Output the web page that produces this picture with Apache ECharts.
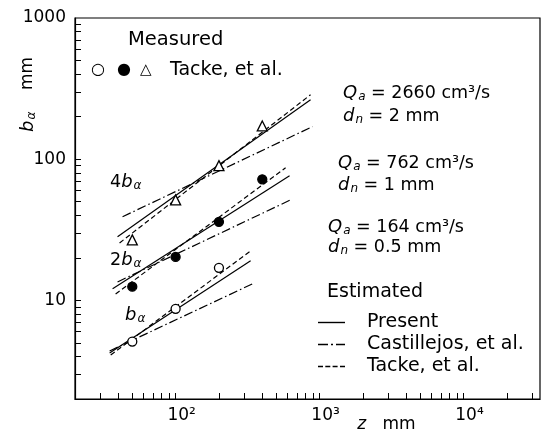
<!DOCTYPE html>
<html><head><meta charset="utf-8">
<script src="https://cdn.jsdelivr.net/npm/echarts@6/dist/echarts.min.js"></script>
<style>html,body{margin:0;padding:0;background:#fff}#c{width:543px;height:434px}</style>
</head><body><div id="c"></div>
<script>
// Axis ticks and labels
const xTickValues = [30,40,50,60,70,80,90,100,200,300,400,500,600,700,800,900,1000,2000,3000,4000,5000,6000,7000,8000,9000,10000,20000,30000];
const xLabelValues = [100,1000,10000];
const yTickValues = [3,4,5,6,7,8,9,10,20,30,40,50,60,70,80,90,100,200,300,400,500,600,700,800,900];
const yLabelValues = [10,100,1000];

// Measured (Tacke, et al.)
const zOpen = [50,100,200];
const bOpen = [5.1,8.7,17];          // b_alpha
const zFilled = [50,100,200,400];
const bFilled = [12.5,20.3,36,72];   // 2 b_alpha
const zTri = [50,100,200,400];
const bTri = [26.8,51.5,90,172];     // 4 b_alpha

// Estimated lines (start, end) for each group
// 4 b_alpha, Qa=2660
const z4Present = [39.5,866],  b4Present = [28.2,264];
const z4Cast    = [42.8,893],  b4Cast    = [39.1,170];
const z4Tacke   = [40.8,866],  b4Tacke   = [25.5,286];
// 2 b_alpha, Qa=762
const z2Present = [36.5,619],  b2Present = [12.1,76.4];
const z2Cast    = [39.5,630],  b2Cast    = [13.5,51.5];
const z2Tacke   = [38.3,581],  b2Tacke   = [11.1,86.9];
// b_alpha, Qa=164
const z1Present = [34.8,332],  b1Present = [4.24,19.1];
const z1Cast    = [34.8,354],  b1Cast    = [4.38,13.3];
const z1Tacke   = [35.4,332],  b1Tacke   = [4.10,22.4];

const pairs = (xs, ys) => xs.map((x,i)=>[x, ys[i]]);
const FONT = 'DejaVu Sans';

const lineTypes = {
  'Present': 'solid',
  'Castillejos, et al.': [9,3,1.5,3],
  'Tacke, et al.': [5,3]
};
function lineSeries(name, zs, bs){
  return {
    type:'line', name, data: pairs(zs,bs), symbol:'none', silent:true,
    lineStyle:{color:'#000', width:1.2, type: lineTypes[name]},
    itemStyle:{color:'#000'}
  };
}
function scatterSeries(name, zs, bs, symbol, fill, size){
  return {
    type:'scatter', name, data: pairs(zs,bs), symbol, symbolSize:size,
    itemStyle:{color:fill, borderColor:'#000', borderWidth:1.3, opacity:1}, z:5
  };
}

const chart = echarts.init(document.getElementById('c'));
const italic = {fontStyle:'italic', fontSize:18, fontFamily:FONT, color:'#000'};
const sub = {fontStyle:'italic', fontSize:12, fontFamily:FONT, color:'#000', padding:[8,0,0,1]};
const norm = {fontSize:17.5, fontFamily:FONT, color:'#000'};

function txt(x, y, text, rich, size){
  return {type:'text', x, y, style:{text, rich, fill:'#000', font: (size||16)+'px "'+FONT+'"', verticalAlign:'middle'}};
}
const qRich = {i:italic, s:sub, n:norm};

chart.setOption({
  animation:false,
  backgroundColor:'#fff',
  grid:{left:75, right:3, top:18, bottom:35, containLabel:false, outerBoundsMode:'none',
        show:true, borderColor:'#000', borderWidth:1.2, backgroundColor:'transparent'},
  xAxis:{
    type:'log', min:20, max:34000, logBase:10,
    name:'{i|z}{n|   mm}', nameLocation:'middle', nameGap:17, nameMoveOverlap:false,
    nameTextStyle:{padding:[0,0,0,158], rich:{i:{fontStyle:'italic',fontSize:17,fontFamily:FONT,color:'#000'}, n:{fontSize:17,fontFamily:FONT,color:'#000'}}},
    axisLine:{lineStyle:{color:'#000', width:1.2}},
    axisTick:{inside:true, length:6, customValues:xTickValues, lineStyle:{color:'#000'}},
    axisLabel:{customValues:xLabelValues, color:'#000', fontSize:17, fontFamily:FONT, margin:8,
      padding:[0,0,0,12],
      formatter:v=>'10'+({2:'²',3:'³',4:'⁴'})[Math.round(Math.log10(v))]},
    splitLine:{show:false}, minorTick:{show:false}
  },
  yAxis:{
    type:'log', min:2, max:1000, logBase:10,
    name:'{i|b}{s|α}{n|    mm}', nameLocation:'middle', nameGap:37, nameRotate:90, nameMoveOverlap:false,
    nameTextStyle:{padding:[0,0,0,228], rich:{i:{fontStyle:'italic',fontSize:18,fontFamily:FONT,color:'#000'}, s:{fontStyle:'italic',fontSize:12,fontFamily:FONT,color:'#000',padding:[8,0,0,1]}, n:{fontSize:17,fontFamily:FONT,color:'#000'}}},
    axisLine:{lineStyle:{color:'#000', width:1.2}},
    axisTick:{inside:true, length:6, customValues:yTickValues, lineStyle:{color:'#000'}},
    axisLabel:{customValues:yLabelValues, color:'#000', fontSize:17, fontFamily:FONT, margin:9,
      formatter:v=>String(v)},
    splitLine:{show:false}, minorTick:{show:false}
  },
  legend:{
    orient:'vertical', left:313, top:308, itemWidth:27, itemHeight:1.4, itemGap:3,
    symbolKeepAspect:false,
    data:[
      {name:'Present', icon:'path://M0,0H27V2H0Z'},
      {name:'Castillejos, et al.', icon:'path://M0,0H10V2H0Z M13,0H15V2H13Z M18,0H27V2H18Z'},
      {name:'Tacke, et al.', icon:'path://M0,0H5V2H0Z M7.3,0H12.3V2H7.3Z M14.6,0H19.6V2H14.6Z M22,0H27V2H22Z'}
    ],
    textStyle:{color:'#000', fontSize:19, fontFamily:FONT, padding:[0,0,0,17]},
    selectedMode:false
  },
  graphic:[
    txt(128, 40, 'Measured', null, 19.5),
    txt(91, 70, '○', null, 16),
    txt(117, 70, '●', null, 16),
    txt(140, 70, '△', null, 15),
    txt(170, 70, 'Tacke, et al.', null, 19),
    txt(343, 93, '{i|Q}{s|a}{n| = 2660 cm³/s}', qRich),
    txt(343, 116, '{i|d}{s|n}{n| = 2 mm}', qRich),
    txt(338, 163, '{i|Q}{s|a}{n| = 762 cm³/s}', qRich),
    txt(338, 185, '{i|d}{s|n}{n| = 1 mm}', qRich),
    txt(328, 227, '{i|Q}{s|a}{n| = 164 cm³/s}', qRich),
    txt(328, 247, '{i|d}{s|n}{n| = 0.5 mm}', qRich),
    txt(110, 182, '{n|4}{i|b}{s|α}', qRich),
    txt(110, 260, '{n|2}{i|b}{s|α}', qRich),
    txt(125, 315, '{i|b}{s|α}', qRich),
    txt(327, 292, 'Estimated', null, 19)
  ],
  series:[
    lineSeries('Present', z4Present, b4Present),
    lineSeries('Castillejos, et al.', z4Cast, b4Cast),
    lineSeries('Tacke, et al.', z4Tacke, b4Tacke),
    lineSeries('Present', z2Present, b2Present),
    lineSeries('Castillejos, et al.', z2Cast, b2Cast),
    lineSeries('Tacke, et al.', z2Tacke, b2Tacke),
    lineSeries('Present', z1Present, b1Present),
    lineSeries('Castillejos, et al.', z1Cast, b1Cast),
    lineSeries('Tacke, et al.', z1Tacke, b1Tacke),
    scatterSeries('Measured b_alpha', zOpen, bOpen, 'circle', '#fff', 9),
    scatterSeries('Measured 2b_alpha', zFilled, bFilled, 'circle', '#000', 9),
    scatterSeries('Measured 4b_alpha', zTri, bTri, 'triangle', '#fff', 10)
  ]
});
</script></body></html>
